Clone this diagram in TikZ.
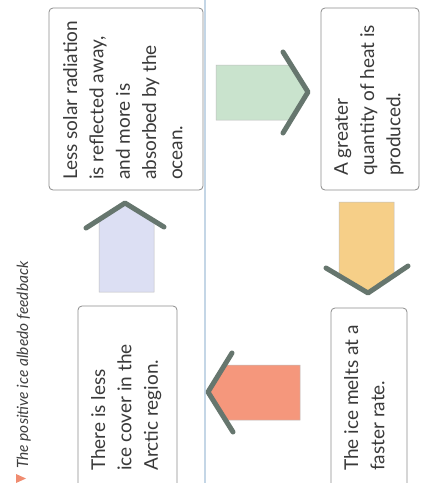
\documentclass[tikz,border=0pt]{standalone}
\usepackage{fontspec}
\setmainfont{Lato}
\definecolor{boxline}{HTML}{8C8C8C}
\definecolor{txt}{HTML}{3A3A3A}
\definecolor{chev}{HTML}{66766E}
\definecolor{fblue}{HTML}{DCDFF3}
\definecolor{fgreen}{HTML}{C9E3CD}
\definecolor{fyellow}{HTML}{F6CF88}
\definecolor{fred}{HTML}{F5977C}
\definecolor{gutter}{HTML}{C4D6E6}
\definecolor{tri}{HTML}{F08C70}
\begin{document}
\begin{tikzpicture}[x=1pt,y=-1pt,
  box/.style={draw=boxline, line width=0.8pt, rounded corners=4pt, fill=white, inner sep=0pt},
  boxtext/.style={rotate=90, anchor=north west, inner sep=0pt, align=left, text=txt,
    font=\fontsize{19}{26.3}\selectfont},
  chevron/.style={draw=chev, line width=5pt, line cap=round, line join=round},
  shaft/.style={draw=black!25, line width=0.5pt}]
\useasboundingbox (0,0) rectangle (422,483);
\clip (0,0) rectangle (422,483);
\fill[white] (0,0) rectangle (422,483);
% gutter line
\draw[gutter, line width=1.3pt] (205,0) -- (205,483);
% boxes
\node[box, minimum width=154pt, minimum height=182pt] (b1) at (126,99) {};
\node[box, minimum width=98pt, minimum height=182pt] (b2) at (370,99) {};
\node[box, minimum width=99pt, minimum height=194pt] (b3) at (127.5,403) {};
\node[box, minimum width=76pt, minimum height=192pt] (b4) at (369,404) {};
% box texts
\node[boxtext] (t1) at (63,180) {Less solar radiation\\is reflected away,\\and more is\\absorbed by the\\ocean.};
\node[boxtext] (t2) at (334,176) {A greater\\quantity of heat is\\produced.};
\node[boxtext] (t3) at (91,471) {There is less\\ice cover in the\\Arctic region.};
\node[boxtext] (t4) at (344,471) {The ice melts at a\\faster rate.};
% blue arrow (up)
\filldraw[shaft, fill=fblue] (99,292) -- (99,220) -- (125,205) -- (154,221) -- (154,292) -- cycle;
\draw[chevron] (86,228) -- (125,203) -- (164,227);
% green arrow (right)
\filldraw[shaft, fill=fgreen] (216,65) -- (291,65) -- (306,92) -- (291,120) -- (216,120) -- cycle;
\draw[chevron] (283,52) -- (308,92) -- (283,133);
% yellow arrow (down)
\filldraw[shaft, fill=fyellow] (339,202) -- (394,202) -- (394,276) -- (368,291) -- (339,276) -- cycle;
\draw[chevron] (326,268) -- (368,293) -- (408,266);
% red arrow (left)
\filldraw[shaft, fill=fred] (300,365) -- (225,365) -- (210,392) -- (225,420) -- (300,420) -- cycle;
\draw[chevron] (232,353) -- (208,392) -- (233,432);
% caption
\fill[tri] (16,474) -- (16,483) -- (26,478.5) -- cycle;
\node[rotate=90, anchor=base west, inner sep=0pt, text=black!75,
  font=\itshape\fontsize{15.5}{18}\selectfont] (cap) at (28,469) {The positive ice albedo feedback};
\end{tikzpicture}
\end{document}
